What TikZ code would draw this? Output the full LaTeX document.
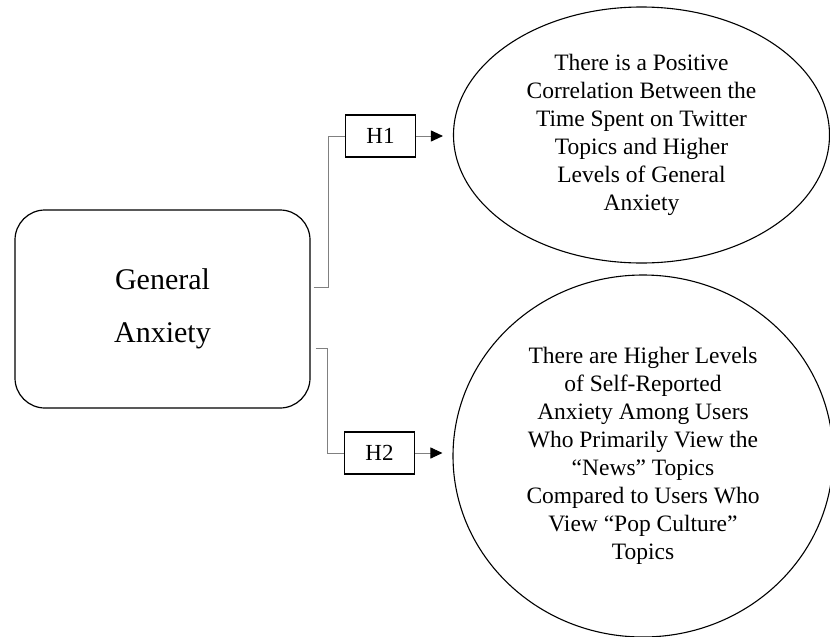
\documentclass[tikz,border=0pt]{standalone}
\usepackage{fontspec}
\setmainfont{Liberation Serif}
\usetikzlibrary{arrows.meta,positioning,calc,shapes.geometric}
\begin{document}
\begin{tikzpicture}[x=1pt,y=-1pt,
 rbox/.style={draw,line width=1.2pt,rounded corners=30pt,minimum width=295pt,minimum height=198pt,align=center,font=\fontsize{30}{53}\selectfont},
 hbox/.style={draw,line width=1.1pt,minimum width=70pt,minimum height=42pt,inner sep=0pt,font=\fontsize{23}{26}\selectfont},
 oval/.style={draw,ellipse,line width=1.1pt,inner sep=0pt,align=center,font=\fontsize{23.5}{28}\selectfont},
 link/.style={draw=gray,line width=0.9pt},
 arr/.style={gray,line width=0.9pt,shorten >=10pt,-{Triangle[black,length=12pt,width=11pt]}}]
\useasboundingbox (0,0) rectangle (830,637);
\node[rbox] (ga) at (162.5,309) {General\\Anxiety};
\node[hbox] (h1) at (380.5,136) {H1};
\node[hbox] (h2) at (379.5,453) {H2};
\node[oval,minimum width=376pt,minimum height=256pt] (e1) at (641.5,135) {There is a Positive\\Correlation Between the\\Time Spent on Twitter\\Topics and Higher\\Levels of General\\Anxiety};
\node[oval,minimum width=380pt,minimum height=362pt] (e2) at (643,456) {There are Higher Levels\\of Self-Reported\\Anxiety Among Users\\Who Primarily View the\\``News'' Topics\\Compared to Users Who\\View ``Pop Culture''\\Topics};
\draw[link] ([xshift=3pt,yshift=22pt]ga.east) -- ++(15,0) |- (h1.west);
\draw[link] ([xshift=5pt,yshift=-39pt]ga.east) -- ++(12,0) |- (h2.west);
\draw[arr] (h1.east) -- (h1.east -| e1.west);
\draw[arr] (h2.east) -- (h2.east -| e2.west);
\end{tikzpicture}
\end{document}
